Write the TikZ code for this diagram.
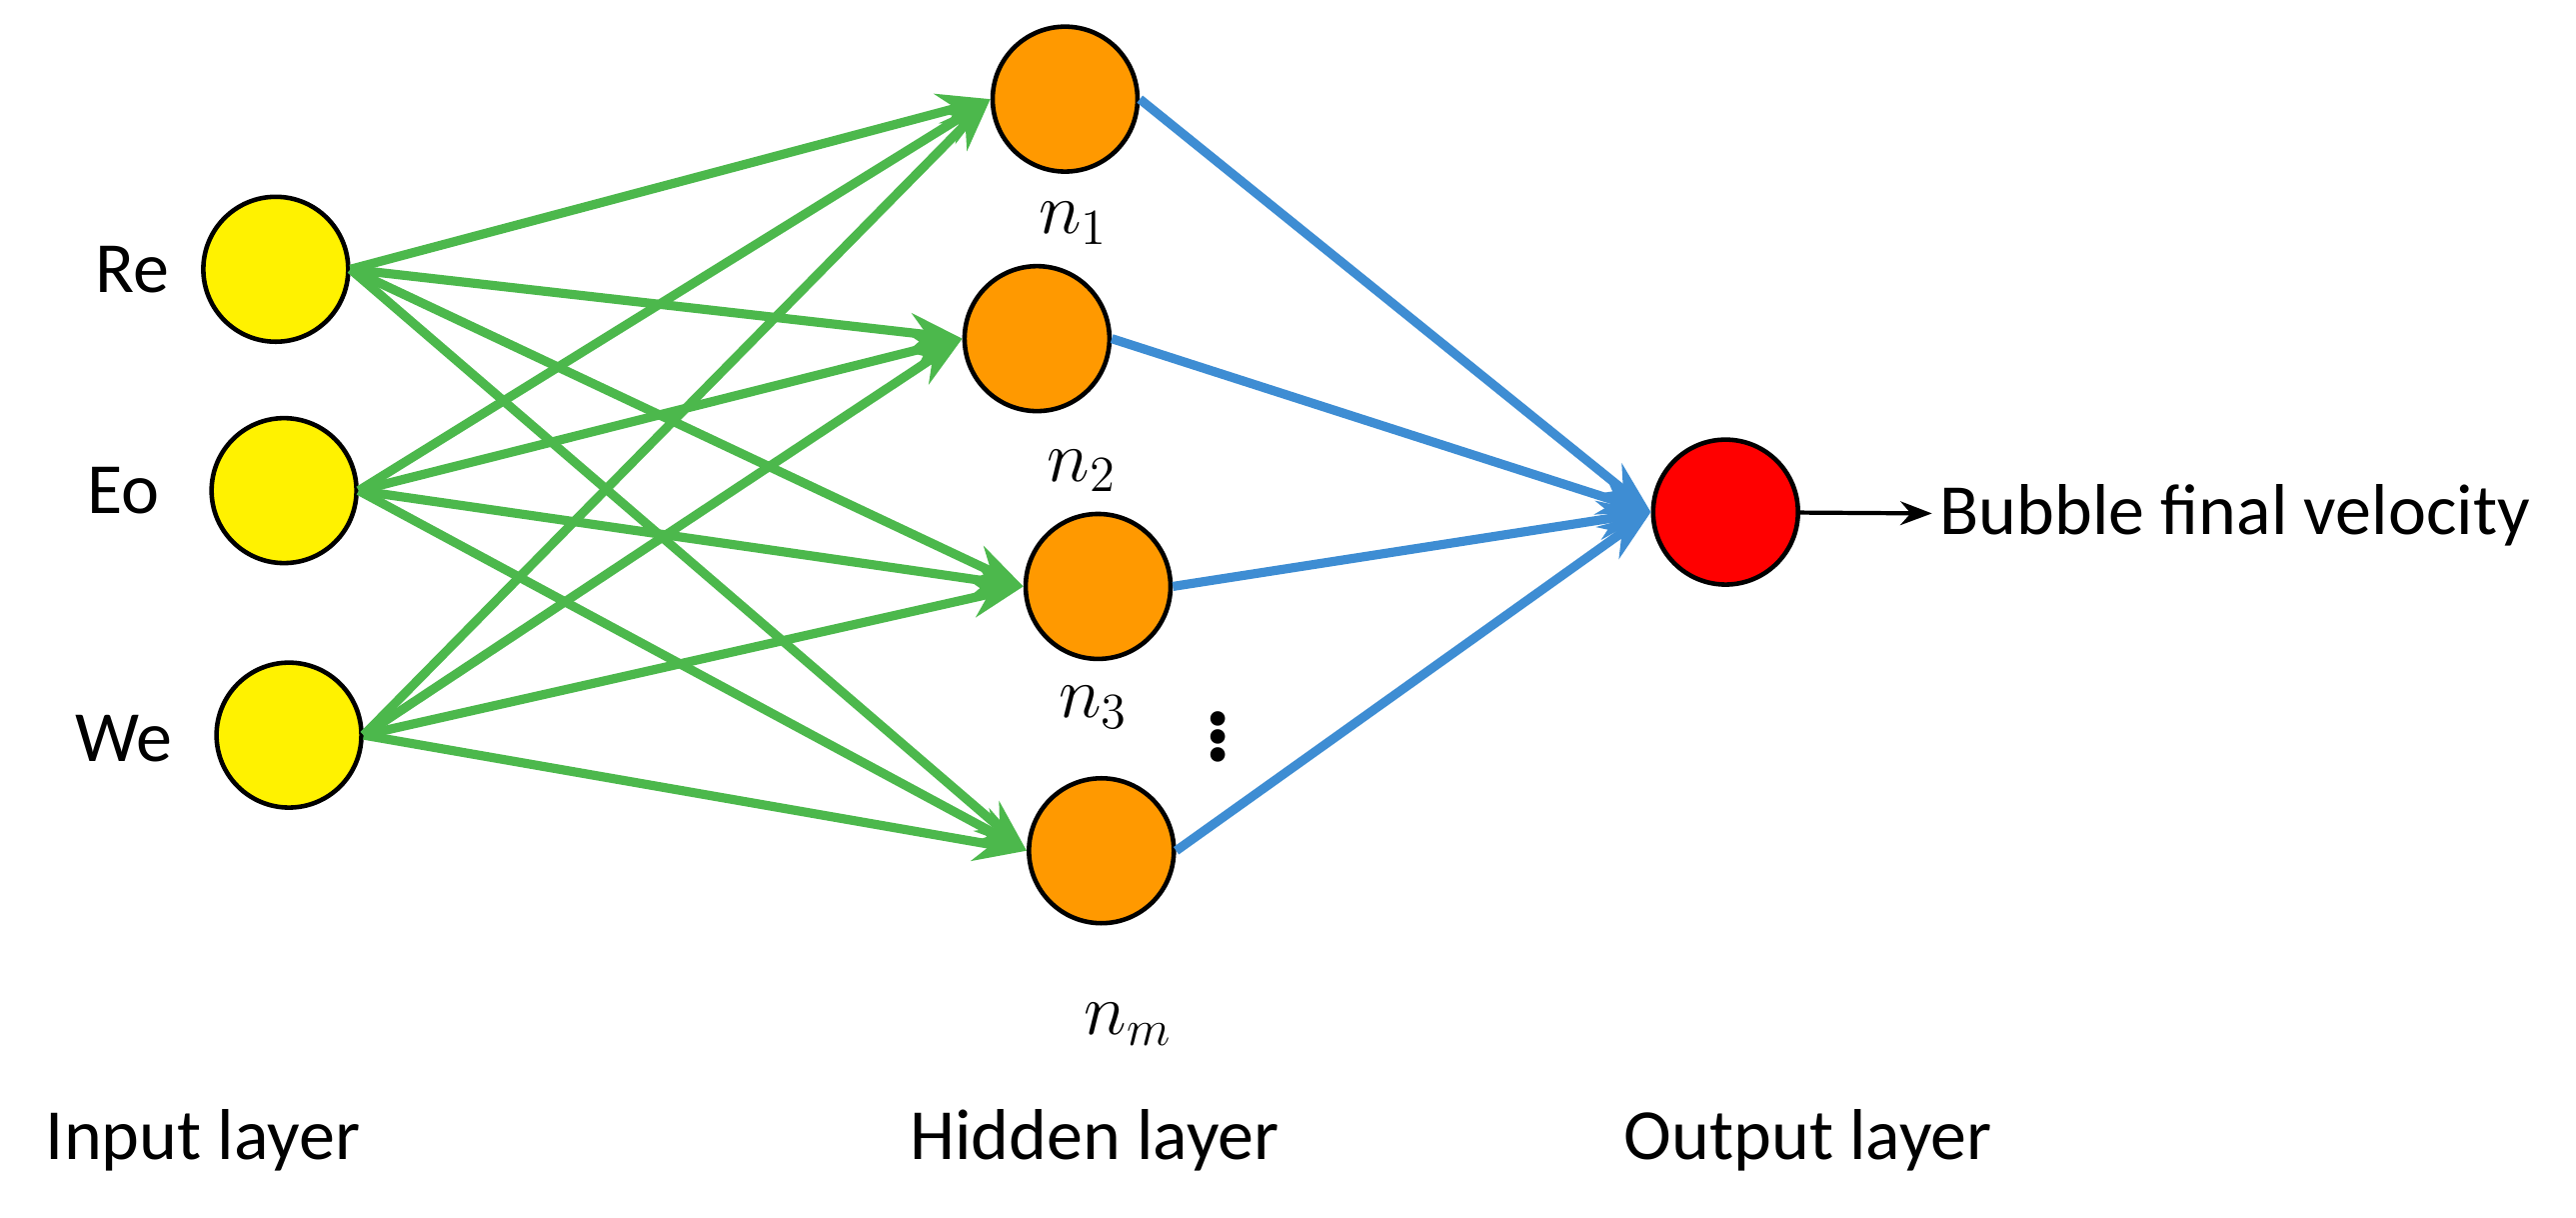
\documentclass[tikz,border=0pt]{standalone}
\usepackage{fontspec}
\setmainfont{Carlito}
\usetikzlibrary{arrows.meta}
\tikzset{
  neuron/.style={circle, draw=black, line width=1.3pt, minimum size=1.45cm, inner sep=0pt},
  inp/.style={neuron, fill=yellow},
  hid/.style={neuron, fill=orange!80!yellow},
  outn/.style={neuron, fill=red},
  garrow/.style={-{Stealth[length=15pt,width=11pt]}, line width=2.6pt, draw=green!60!black!70!white},
  barrow/.style={-{Stealth[length=15pt,width=11pt]}, line width=2.6pt, draw=cyan!60!blue!80!white},
  lbl/.style={font=\fontsize{20.5}{24}\selectfont}
}
\begin{document}
\begin{tikzpicture}[x=0.01652cm, y=-0.01652cm]
\useasboundingbox (0,0) rectangle (1560,737);
% input layer
\node[inp] (re) at (167,163) {};
\node[inp] (eo) at (172,297) {};
\node[inp] (we) at (175,445) {};
\node[lbl] (lre) at (80,163) {Re};
\node[lbl] (leo) at (75,297) {Eo};
\node[lbl] (lwe) at (75,447) {We};
% hidden layer
\node[hid] (h1) at (645,60) {};
\node[hid] (h2) at (628,205) {};
\node[hid] (h3) at (665,355) {};
\node[hid] (hm) at (667,515) {};
\node[lbl] (l1) at (650,135) {$n_1$};
\node[lbl] (l2) at (655,285) {$n_2$};
\node[lbl] (l3) at (662,428) {$n_3$};
\node[lbl] (lm) at (683,620) {$n_m$};
\node[font=\fontsize{28}{28}\selectfont\bfseries, inner sep=0pt] (dots) at (738,440) {$\vdots$};
% output
\node[outn] (out) at (1045,310) {};
\node[lbl, anchor=west, inner sep=2pt] (vel) at (1170,312) {Bubble final velocity};
\draw[-{Stealth[length=9pt]}, line width=1.2pt] (out) -- (vel);
% connections
\foreach \i in {re,eo,we}
  \foreach \j in {h1,h2,h3,hm}
    \draw[garrow] (\i.east) -- (\j.west);
\foreach \j in {h1,h2,h3,hm}
  \draw[barrow] (\j.east) -- (out.west);
% layer names
\node[lbl] (li) at (123,690) {Input layer};
\node[lbl] (lh) at (663,690) {Hidden layer};
\node[lbl] (lo) at (1095,690) {Output layer};
\end{tikzpicture}
\end{document}
